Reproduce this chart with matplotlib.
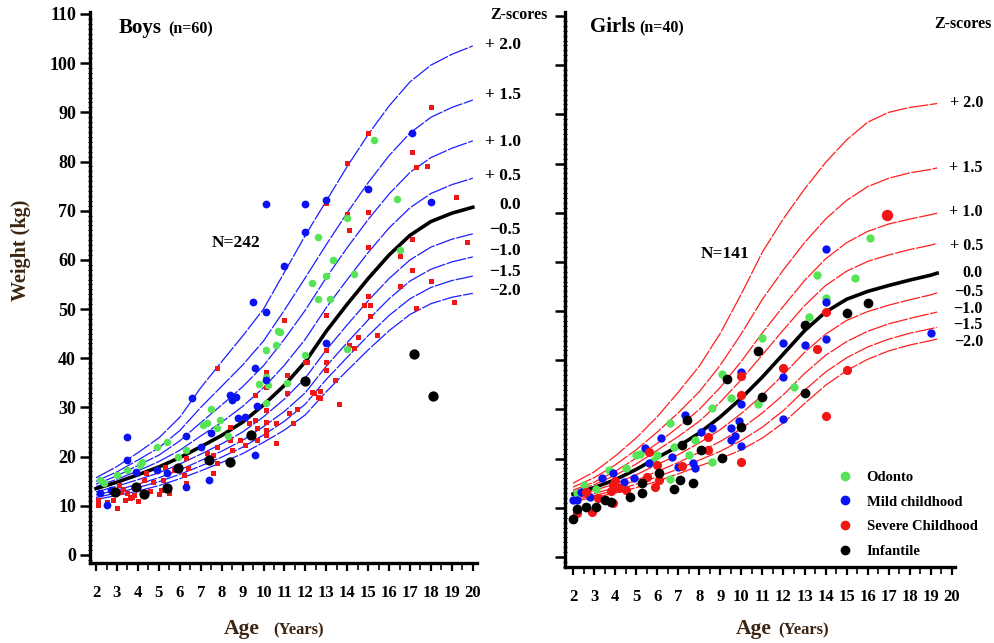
import numpy as np
import matplotlib.pyplot as plt
from matplotlib.lines import Line2D
from matplotlib.ticker import MultipleLocator

plt.rcParams['font.family'] = ['Liberation Serif', 'DejaVu Serif']
plt.rcParams['font.weight'] = 'bold'

# ---------------- reference curves (weight, kg) ----------------
boy_ages = list(range(2, 21))
boy_p20 = [15.7, 18.0, 20.8, 23.8, 28.0, 34.0, 39.3, 44.5, 50.0, 57.5, 65.0, 72.0, 79.0, 85.5, 91.3, 96.2, 99.6, 101.8, 103.5]
boy_p15 = [15.0, 16.9, 19.3, 21.8, 25.3, 30.0, 34.3, 38.6, 43.5, 49.8, 56.4, 63.1, 69.6, 75.7, 81.2, 85.8, 89.0, 91.0, 92.5]
boy_p10 = [14.4, 16.1, 18.2, 20.3, 23.2, 26.9, 30.5, 34.2, 38.5, 43.9, 49.8, 56.4, 62.5, 68.2, 73.4, 77.8, 80.8, 82.7, 84.2]
boy_p05 = [13.9, 15.4, 17.1, 19.0, 21.3, 24.2, 27.0, 30.2, 34.0, 38.6, 43.9, 50.3, 56.0, 61.5, 66.5, 70.6, 73.5, 75.3, 76.6]
boy_med = [13.5, 14.8, 16.3, 17.9, 19.8, 22.0, 24.3, 27.0, 30.5, 34.5, 39.3, 45.5, 51.0, 56.2, 61.0, 65.0, 67.8, 69.5, 70.7]
boy_m05 = [12.8, 14.0, 15.3, 16.7, 18.5, 20.5, 22.6, 25.0, 28.1, 31.7, 36.0, 41.7, 46.8, 51.7, 56.2, 60.0, 62.6, 64.2, 65.3]
boy_m10 = [12.2, 13.2, 14.4, 15.7, 17.3, 19.2, 21.1, 23.3, 26.1, 29.2, 33.0, 38.4, 43.2, 47.8, 52.1, 55.7, 58.1, 59.6, 60.6]
boy_m15 = [11.7, 12.6, 13.7, 14.9, 16.4, 18.1, 19.9, 21.9, 24.4, 27.2, 30.7, 35.7, 40.2, 44.6, 48.7, 52.1, 54.4, 55.8, 56.7]
boy_m20 = [11.3, 12.1, 13.0, 14.1, 15.5, 17.1, 18.8, 20.6, 22.9, 25.4, 28.5, 33.2, 37.5, 41.7, 45.6, 48.9, 51.1, 52.4, 53.2]

girl_ages = [2, 3, 4, 5, 6, 7, 8, 9, 10, 11, 12, 13, 14, 15, 16, 17, 18, 19, 19.3]
girl_p20 = [15.0, 17.3, 20.5, 24.2, 28.5, 33.5, 38.8, 45.5, 53.5, 62.0, 68.8, 74.8, 80.2, 84.8, 88.4, 90.4, 91.4, 92.0, 92.2]
girl_p15 = [14.2, 16.1, 18.7, 21.8, 25.4, 29.3, 33.6, 39.0, 45.4, 52.4, 58.4, 63.9, 68.7, 72.5, 75.3, 77.0, 78.1, 78.8, 79.1]
girl_p10 = [13.6, 15.2, 17.4, 20.1, 23.1, 26.4, 30.0, 34.5, 39.8, 45.6, 51.0, 56.2, 60.6, 63.9, 66.2, 67.7, 68.7, 69.6, 69.9]
girl_p05 = [13.2, 14.7, 16.6, 18.9, 21.7, 24.5, 27.6, 31.5, 36.1, 41.1, 46.2, 51.1, 55.2, 58.1, 60.1, 61.4, 62.5, 63.4, 63.8]
girl_med = [12.8, 14.1, 15.7, 17.8, 20.2, 22.5, 25.2, 28.5, 32.3, 36.6, 41.3, 46.0, 49.8, 52.4, 54.0, 55.2, 56.3, 57.3, 57.7]
girl_m05 = [12.4, 13.5, 14.9, 16.7, 18.8, 20.8, 23.2, 25.9, 29.2, 32.9, 37.1, 41.6, 45.3, 48.1, 49.9, 51.2, 52.3, 53.3, 53.7]
girl_m10 = [11.9, 12.9, 14.1, 15.6, 17.4, 19.2, 21.3, 23.5, 26.1, 29.3, 33.0, 37.3, 41.0, 43.8, 45.9, 47.4, 48.5, 49.5, 49.8]
girl_m15 = [11.6, 12.5, 13.5, 14.8, 16.3, 17.9, 19.7, 21.5, 23.7, 26.4, 29.8, 33.9, 37.6, 40.5, 42.7, 44.3, 45.5, 46.4, 46.7]
girl_m20 = [11.3, 12.1, 13.0, 14.1, 15.4, 16.9, 18.5, 20.0, 21.8, 24.2, 27.3, 31.2, 34.9, 37.9, 40.2, 41.9, 43.1, 44.0, 44.3]

z_labels = ['+ 2.0', '+ 1.5', '+ 1.0', '+ 0.5', '0.0', '\u22120.5', '\u22121.0', '\u22121.5', '\u22122.0']

# ---------------- patients (age, weight) ----------------
boy_green_age = [15.3, 16.4, 14.0, 12.6, 13.3, 13.0, 14.3, 12.3, 12.6, 13.2, 16.5, 10.7, 10.6, 10.1, 12.0, 9.8, 11.1, 10.1, 7.5, 7.1,
                 7.9, 14.0, 7.3, 7.8, 4.9, 5.4, 6.3, 5.9, 4.1, 4.2, 3.5, 2.2, 2.4, 8.3, 10.1, 10.2, 10.8, 3.0]
boy_green_wt = [84.3, 72.4, 68.5, 64.6, 60.0, 56.7, 57.1, 55.3, 52.0, 52.0, 62.0, 45.5, 42.7, 41.7, 40.7, 34.8, 35.0, 31.0, 29.7, 26.4,
                27.4, 41.9, 26.8, 25.8, 22.0, 23.0, 21.3, 20.0, 18.3, 18.9, 17.3, 15.2, 14.6, 24.2, 36.2, 34.5, 45.3, 16.3]

boy_blue_age = [10.1, 12.0, 13.0, 12.0, 11.0, 9.5, 10.1, 17.1, 15.0, 18.0, 9.6, 10.1, 9.7, 8.4, 8.7, 8.5, 6.6, 8.8, 9.1, 7.5,
                6.3, 3.5, 3.5, 9.6, 7.4, 6.3, 4.9, 5.4, 3.9, 2.7, 2.5, 2.2, 13.0, 7.0]
boy_blue_wt = [71.3, 71.3, 72.2, 65.7, 58.7, 51.4, 49.4, 85.8, 74.4, 71.7, 38.0, 35.6, 30.3, 32.5, 32.1, 31.5, 31.9, 27.8, 28.0, 24.8,
               24.2, 24.0, 19.3, 20.3, 15.2, 13.8, 17.3, 16.7, 16.9, 13.2, 10.2, 12.6, 43.1, 22.0]

boy_red_age = [18.0, 15.0, 14.0, 13.0, 17.1, 17.3, 17.8, 19.2, 14.0, 15.0, 14.1, 15.0, 17.1, 19.7, 16.5, 17.1, 18.0, 16.5, 15.0, 14.8,
               15.1, 15.1, 17.3, 19.1, 13.0, 15.4, 14.5, 14.1, 14.3, 13.0, 13.0, 13.0, 12.0, 13.4, 12.4, 12.7, 12.7, 13.6, 7.8, 11.0,
               9.6, 10.1, 10.1, 10.1, 9.6, 9.3, 9.7, 10.1, 10.1, 10.1, 9.7, 9.1, 8.9, 8.4, 8.4, 8.5, 7.8, 7.6, 7.3, 7.6,
               7.8, 6.3, 6.4, 6.2, 6.3, 5.7, 5.3, 5.2, 5.1, 4.7, 4.3, 4.4, 4.0, 3.7, 3.5, 3.2, 3.4, 3.0, 2.8, 2.5,
               2.1, 2.1, 2.2, 3.1, 10.6, 10.6, 11.1, 11.2, 11.4, 11.1, 12.1, 12.3, 12.6, 11.6, 3.6, 3.8, 4.0, 3.3, 4.6, 5.0, 5.5]
boy_red_wt = [91.0, 85.8, 79.7, 71.5, 82.0, 78.9, 79.1, 72.8, 69.3, 69.7, 66.0, 62.6, 64.2, 63.6, 60.8, 57.9, 55.7, 54.7, 52.6, 50.8,
              50.8, 48.6, 50.2, 51.4, 48.8, 44.7, 44.3, 42.7, 42.0, 41.7, 39.2, 37.6, 39.2, 35.6, 33.0, 33.3, 31.9, 30.7, 38.0, 47.8,
              32.5, 37.2, 34.1, 29.5, 27.4, 26.8, 25.8, 27.0, 25.4, 24.4, 23.4, 22.4, 23.4, 26.0, 23.4, 21.3, 22.0, 20.3, 20.7, 16.7,
              18.7, 19.7, 17.7, 16.3, 14.6, 17.3, 17.9, 15.2, 13.2, 14.8, 15.2, 16.7, 14.2, 11.8, 12.6, 12.8, 11.2, 9.6, 11.2, 10.8,
              11.2, 10.2, 12.8, 14.2, 26.8, 22.8, 32.9, 28.9, 26.8, 36.6, 39.2, 33.1, 32.1, 29.7, 11.5, 12.2, 11.0, 13.5, 13.0, 12.5, 12.7]

boy_black_age = [2.9, 3.9, 4.3, 5.4, 5.9, 7.4, 8.4, 9.4, 12.0, 17.2, 18.1]
boy_black_wt = [12.8, 13.8, 12.4, 13.6, 17.7, 19.3, 18.9, 24.4, 35.4, 40.8, 32.3]

girl_green_age = [16.1, 13.6, 15.4, 14.0, 13.2, 11.0, 12.5, 10.8, 9.1, 9.5, 8.6, 8.6, 7.8, 6.6, 6.8, 7.5, 6.6, 6.0, 5.0, 3.7,
                  3.1, 2.5, 2.2, 5.2, 4.5, 5.8]
girl_green_wt = [64.8, 57.3, 56.7, 52.6, 48.8, 44.5, 34.6, 31.2, 37.2, 32.3, 30.3, 19.3, 23.8, 27.2, 22.4, 20.7, 15.9, 20.7, 20.7, 17.7,
                 13.8, 14.6, 13.0, 21.0, 18.0, 19.5]

girl_blue_age = [14.0, 14.0, 14.0, 12.0, 13.0, 19.0, 12.0, 12.0, 10.0, 10.0, 9.9, 8.6, 9.5, 9.5, 9.7, 10.0, 8.1, 7.7, 7.8, 7.3,
                 6.2, 6.7, 7.0, 5.4, 5.6, 4.9, 3.9, 3.4, 2.4, 2.0, 2.2, 2.8, 4.4]
girl_blue_wt = [62.6, 51.8, 44.3, 43.5, 43.1, 45.5, 36.6, 28.0, 37.6, 31.1, 27.6, 26.2, 26.2, 23.8, 24.6, 22.6, 25.4, 19.1, 18.1, 28.9,
                24.2, 20.3, 18.3, 22.2, 19.1, 16.0, 17.1, 16.1, 13.2, 11.6, 11.6, 12.2, 15.2]

girl_red_age = [16.9, 14.0, 13.6, 15.0, 12.0, 14.0, 10.0, 10.0, 10.0, 8.4, 8.4, 7.2, 6.1, 5.9, 5.6, 6.0, 5.5, 4.5, 3.9, 3.9,
                3.2, 2.9, 2.6, 2.2, 4.0, 3.8, 4.2]
girl_red_wt = [69.5, 49.8, 42.3, 38.0, 38.4, 28.7, 36.8, 32.9, 19.3, 24.4, 21.7, 18.5, 15.7, 14.2, 21.3, 18.7, 16.3, 13.6, 14.6, 11.0,
               12.0, 9.1, 13.2, 8.9, 15.5, 13.5, 14.0]

girl_black_age = [16.0, 15.0, 13.0, 10.8, 13.0, 11.0, 9.3, 10.0, 9.1, 8.1, 7.7, 7.4, 7.2, 7.1, 6.8, 6.1, 5.3, 5.3, 4.7, 3.8,
                  3.5, 3.1, 2.6, 2.0, 2.2]
girl_black_wt = [51.6, 49.6, 47.2, 41.9, 33.3, 32.5, 36.2, 26.4, 20.1, 21.7, 15.0, 27.8, 22.8, 15.7, 13.8, 17.1, 15.0, 13.0, 12.2, 11.2,
                 11.6, 10.2, 10.2, 7.7, 9.8]

GREEN, BLUE, RED, BLACK = '#55e455', '#0a12f2', '#f01616', 'black'
BROWN = '#3b2410'

fig = plt.figure(figsize=(9.95, 6.43), dpi=100)
W, H = 995, 643


def fx(x):
    return x / W


def fy(y):
    return 1 - y / H


axL = fig.add_axes([fx(90), fy(563), fx(477) - fx(90), fy(12) - fy(563)])
axR = fig.add_axes([fx(565), fy(567), fx(955) - fx(565), fy(12) - fy(567)])


def style_axis(ax, ylim, show_ylabels):
    ax.set_xlim(1.71, 20.2)
    ax.set_ylim(*ylim)
    for s in ['top', 'right']:
        ax.spines[s].set_visible(False)
    for s in ['left', 'bottom']:
        ax.spines[s].set_linewidth(2.4)
    ax.xaxis.set_minor_locator(MultipleLocator(0.5))
    ax.yaxis.set_minor_locator(MultipleLocator(1))
    ax.set_xticks(range(2, 21))
    ax.set_yticks(range(0, 111, 10))
    ax.tick_params(axis='x', which='major', length=6, width=1.6, labelsize=12, pad=10)
    ax.tick_params(axis='x', which='minor', length=5, width=1.2)
    ax.tick_params(axis='y', which='major', length=7, width=1.8, labelsize=13, pad=3, labelleft=show_ylabels)
    ax.tick_params(axis='y', which='minor', length=3, width=0.8, direction='inout')
    for lab in ax.get_xticklabels() + ax.get_yticklabels():
        lab.set_fontweight('bold')


style_axis(axL, (-1.63, 110.4), True)
style_axis(axR, (-2.03, 110.8), False)
axR.set_xlim(1.62, 20.15)

dash = (0, (16, 1.2))
boy_curves = [boy_p20, boy_p15, boy_p10, boy_p05, boy_med, boy_m05, boy_m10, boy_m15, boy_m20]
girl_curves = [girl_p20, girl_p15, girl_p10, girl_p05, girl_med, girl_m05, girl_m10, girl_m15, girl_m20]

for i, c in enumerate(boy_curves):
    if i == 4:
        axL.plot(boy_ages, c, color='black', lw=2.6, zorder=3)
    else:
        axL.plot(boy_ages, c, color='#1e1eff', lw=0.9, ls=dash, zorder=2)
for i, c in enumerate(girl_curves):
    if i == 4:
        axR.plot(girl_ages, c, color='black', lw=2.6, zorder=3)
    else:
        axR.plot(girl_ages, c, color='#ff1e1e', lw=0.9, ls=dash, zorder=2)

# boys points
axL.plot(boy_red_age, boy_red_wt, 's', color=RED, ms=3.6, mew=0, zorder=4)
axL.plot(boy_green_age, boy_green_wt, 'o', color=GREEN, ms=5.4, mew=0, zorder=4)
axL.plot(boy_blue_age, boy_blue_wt, 'o', color=BLUE, ms=5.6, mew=0, zorder=4)
axL.plot(boy_black_age, boy_black_wt, 'o', color=BLACK, ms=7.4, mew=0, zorder=5)

# girls points
axR.plot(girl_green_age, girl_green_wt, 'o', color=GREEN, ms=6.0, mew=0, zorder=4)
axR.plot(girl_blue_age, girl_blue_wt, 'o', color=BLUE, ms=6.0, mew=0, zorder=4)
axR.plot(girl_red_age[1:], girl_red_wt[1:], 'o', color=RED, ms=6.6, mew=0, zorder=4)
axR.plot(girl_red_age[:1], girl_red_wt[:1], 'o', color=RED, ms=8.2, mew=0, zorder=4)
axR.plot(girl_black_age, girl_black_wt, 'o', color=BLACK, ms=7.0, mew=0, zorder=5)

# z-score labels (right-aligned, beyond curve ends)
boy_lab_y = [45, 95, 142, 176, 205, 230, 251, 272, 291]
girl_lab_y = [103, 168, 212, 246, 273, 292, 309, 325, 342]
for lab, y in zip(z_labels, boy_lab_y):
    fig.text(fx(521), fy(y), lab, ha='right', va='center', fontsize=12.5, fontweight='bold')
for lab, y in zip(z_labels, girl_lab_y):
    fig.text(fx(983), fy(y), lab, ha='right', va='center', fontsize=11.5, fontweight='bold')
fig.text(fx(519), fy(15), 'Z-scores', ha='center', va='center', fontsize=11.5, fontweight='bold')
fig.text(fx(963), fy(24), 'Z-scores', ha='center', va='center', fontsize=11.5, fontweight='bold')

# titles
fig.text(fx(119), fy(28), 'Boys', ha='left', va='center', fontsize=15, fontweight='bold')
fig.text(fx(168), fy(29), '(n=60)', ha='left', va='center', fontsize=11.5, fontweight='bold')
fig.text(fx(590), fy(27), 'Girls', ha='left', va='center', fontsize=15, fontweight='bold')
fig.text(fx(639), fy(28), '(n=40)', ha='left', va='center', fontsize=11.5, fontweight='bold')
fig.text(fx(236), fy(243), 'N=242', ha='center', va='center', fontsize=12.5, fontweight='bold')
fig.text(fx(725), fy(254), 'N=141', ha='center', va='center', fontsize=12.5, fontweight='bold')

# axis labels
fig.text(fx(21), fy(250), 'Weight (kg)', rotation=90, ha='center', va='center', fontsize=14.5,
         fontweight='bold', color=BROWN)
fig.text(fx(260), fy(629), 'Age', ha='right', va='center', fontsize=15.5, fontweight='bold', color=BROWN)
fig.text(fx(273), fy(630), '(Years)', ha='left', va='center', fontsize=12, fontweight='bold', color=BROWN)
fig.text(fx(772), fy(629), 'Age', ha='right', va='center', fontsize=15.5, fontweight='bold', color=BROWN)
fig.text(fx(778), fy(630), '(Years)', ha='left', va='center', fontsize=12, fontweight='bold', color=BROWN)

# legend
handles = [Line2D([], [], ls='', marker='o', color=c, ms=7, mew=0) for c in (GREEN, BLUE, RED, BLACK)]
axR.legend(handles, ['Odonto', 'Mild childhood', 'Severe Childhood', 'Infantile'],
           loc='upper left', bbox_to_anchor=(0.68, 0.187), frameon=False,
           prop={'family': 'Liberation Serif', 'weight': 'bold', 'size': 10.5},
           handlelength=1.0, handletextpad=1.0, labelspacing=0.8, borderpad=0)

fig.savefig('out.png', dpi=100)
